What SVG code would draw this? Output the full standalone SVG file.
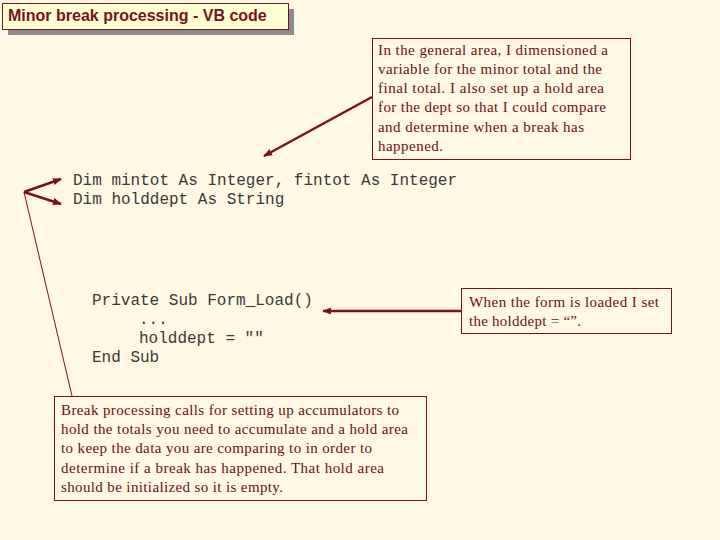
<svg xmlns="http://www.w3.org/2000/svg" width="720" height="540" viewBox="0 0 720 540">
<style>
.note{font-family:"Liberation Serif",serif;font-size:15px;fill:#6b0f1a}
.code{font-family:"Liberation Mono",monospace;font-size:16px;fill:#3a3a3a}
.box{fill:none;stroke:#7a1020;stroke-width:1}
.conn{stroke:#7a1020;fill:none}
</style>
<defs>
<marker id="ah2" viewBox="0 0 10 10" refX="9" refY="5" markerWidth="9" markerHeight="9" orient="auto" markerUnits="userSpaceOnUse">
<path d="M0,1 L10,5 L0,9 z" fill="#7a1020"/>
</marker>
</defs>
<rect width="720" height="540" fill="#fff8e2"/>
<g id="title">
<rect x="8" y="9" width="286" height="26" fill="#8c8c8c"/>
<rect x="2.5" y="3.5" width="286" height="26" fill="#ffffd0" stroke="#7a1020" stroke-width="1"/>
<text x="8" y="21" font-family="Liberation Sans,Arial,sans-serif" font-size="16" font-weight="bold" fill="#7a1020">Minor break processing - VB code</text>
</g>
<g id="note-general">
<rect class="box" x="372.5" y="38.5" width="258" height="121"/>
<text class="note" lengthAdjust="spacing"><tspan x="378" y="55" textLength="230">In the general area, I dimensioned a</tspan><tspan x="378" y="74" textLength="224">variable for the minor total and the</tspan><tspan x="378" y="93" textLength="226">final total.  I also set up a hold area</tspan><tspan x="378" y="112" textLength="228">for the dept so that I could compare</tspan><tspan x="378" y="132" textLength="206">and determine when a break has</tspan><tspan x="378" y="151" textLength="65">happened.</tspan></text>
</g>
<g id="code-dim">
<text class="code" xml:space="preserve"><tspan x="73" y="185">Dim mintot As Integer, fintot As Integer</tspan><tspan x="73" y="204">Dim holddept As String</tspan></text>
</g>
<g id="code-formload">
<text class="code" xml:space="preserve"><tspan x="92" y="305">Private Sub Form_Load()</tspan><tspan x="139" y="324">...</tspan><tspan x="139" y="343">holddept = ""</tspan><tspan x="92" y="362">End Sub</tspan></text>
</g>
<g id="note-formload">
<rect class="box" x="461.5" y="288.5" width="210" height="45"/>
<text class="note"><tspan x="469" y="307" textLength="190">When the form is loaded I set</tspan><tspan x="469" y="326" textLength="112">the holddept = “”.</tspan></text>
</g>
<g id="note-break">
<rect class="box" x="54.5" y="396.5" width="372" height="104"/>
<text class="note"><tspan x="61" y="415" textLength="338">Break processing calls for setting up accumulators to</tspan><tspan x="61" y="434" textLength="347">hold the totals you need to accumulate and a hold area</tspan><tspan x="61" y="453" textLength="311">to keep the data you are comparing to in order to</tspan><tspan x="61" y="473" textLength="323">determine if a break has happened.  That hold area</tspan><tspan x="61" y="492" textLength="222">should be initialized so it is empty.</tspan></text>
</g>
<g id="connectors">
<line class="conn" x1="372" y1="97" x2="264" y2="156" stroke-width="2.5" marker-end="url(#ah2)"/>
<line class="conn" x1="461" y1="311" x2="323" y2="311" stroke-width="2.5" marker-end="url(#ah2)"/>
<line class="conn" x1="72" y1="396" x2="24" y2="192" stroke-width="1"/>
<line class="conn" x1="24" y1="192" x2="61" y2="179" stroke-width="2.5" marker-end="url(#ah2)"/>
<line class="conn" x1="24" y1="192" x2="61" y2="204" stroke-width="2.5" marker-end="url(#ah2)"/>
</g>
</svg>
